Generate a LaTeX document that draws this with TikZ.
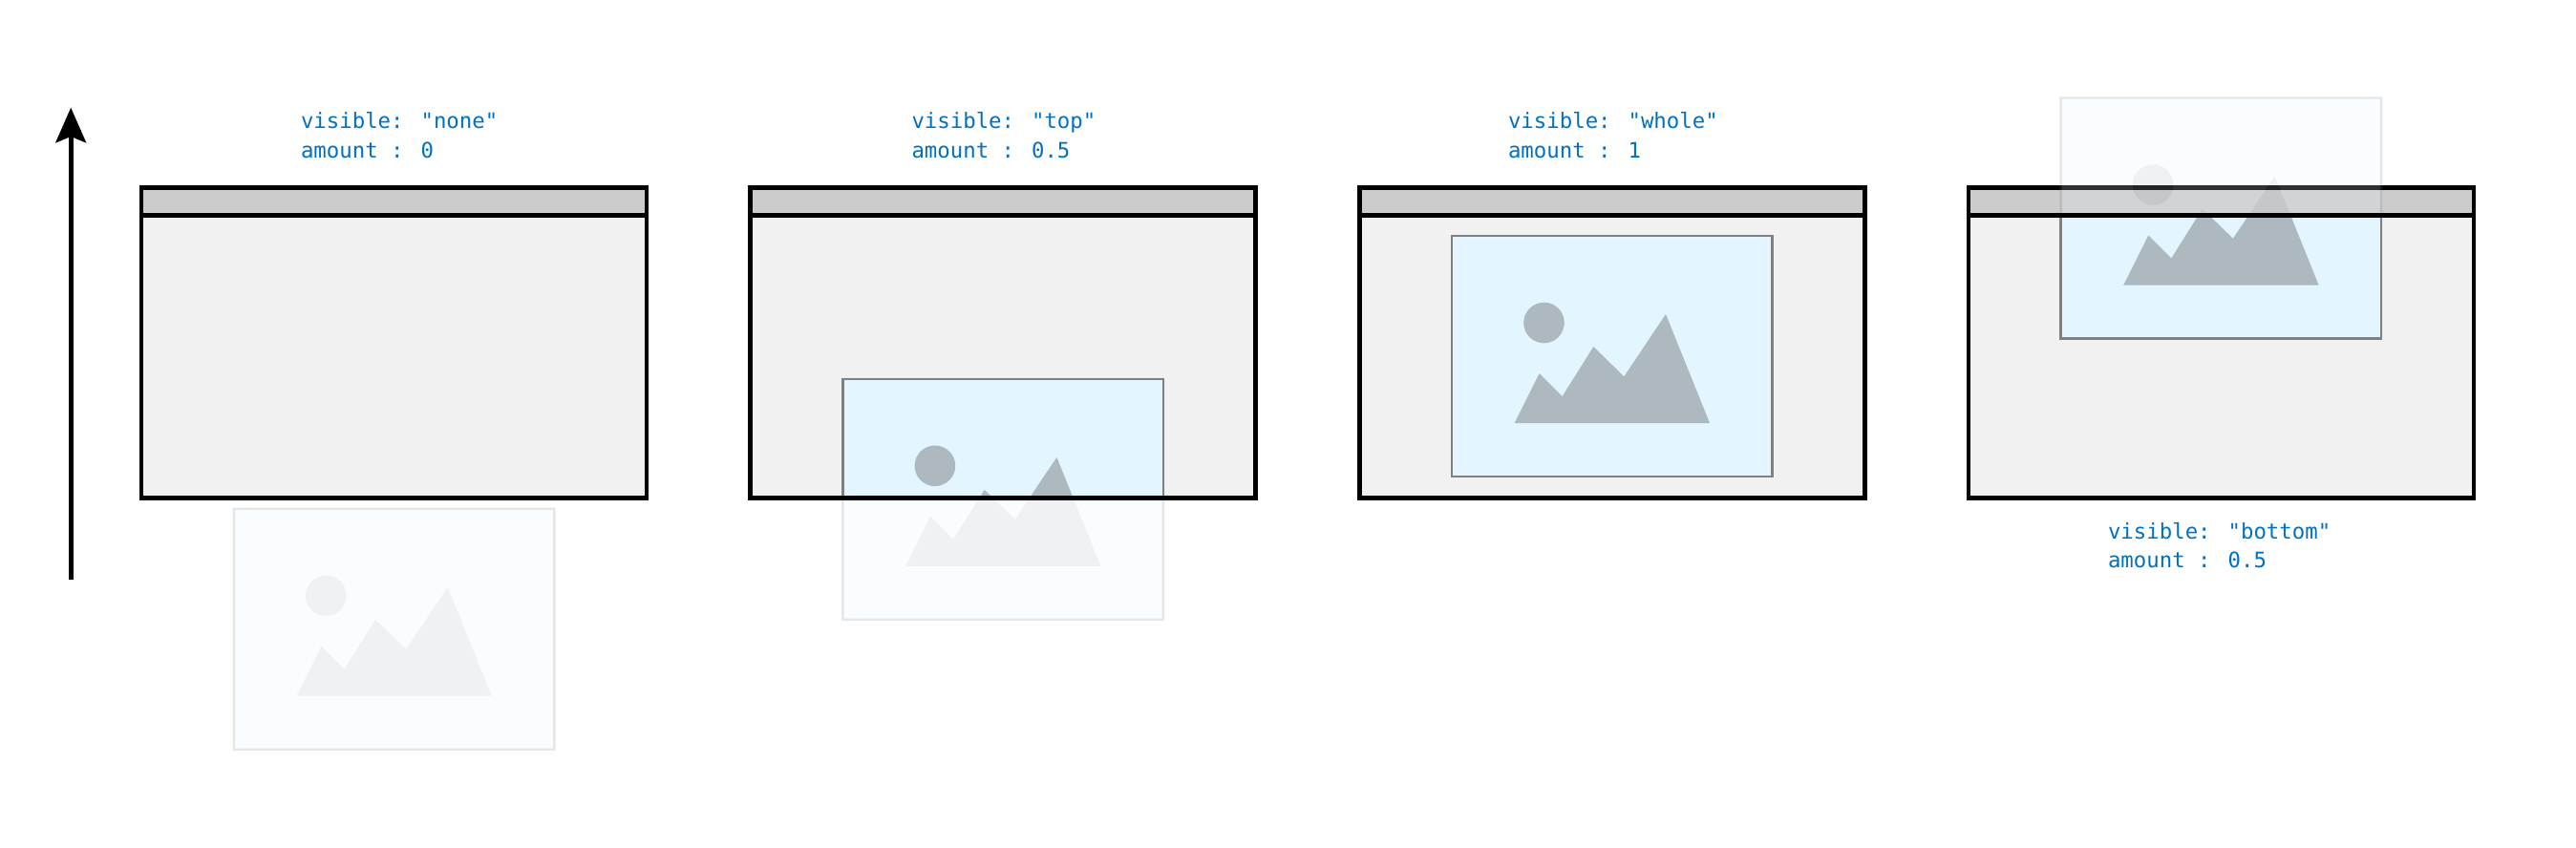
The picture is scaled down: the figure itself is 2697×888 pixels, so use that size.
\documentclass[tikz,border=0pt]{standalone}
\usepackage{fontspec}
\newfontfamily\codefont{DejaVu Sans Mono}
\usetikzlibrary{arrows.meta}
\definecolor{winfill}{HTML}{F1F1F1}
\definecolor{barfill}{HTML}{CCCCCC}
\definecolor{photofill}{HTML}{E3F5FE}
\definecolor{photoink}{HTML}{ADB8BF}
\definecolor{photoedge}{HTML}{808080}
\definecolor{codeblue}{HTML}{0070C0}
\tikzset{
  winbody/.style={fill=winfill},
  winbar/.style={fill=barfill},
  winline/.style={draw=black,line width=4.6pt,line join=miter},
  code/.style={font=\codefont\fontsize{22.35pt}{29pt}\selectfont,text=codeblue,anchor=base west,inner sep=0pt,outer sep=0pt},
  bigarrow/.style={draw=black,line width=4.6pt,-{Stealth[length=36.6pt,width=31.7pt,inset=6.3pt]}},
}
\newcommand{\photoart}{%
  \fill[photofill] (0,0) rectangle (335.5,252);
  \fill[photoink] (96.5,91) circle (21.3);
  \fill[photoink] (65.7,196) -- (91.7,144) -- (115.7,168) -- (148.3,116) -- (180.3,147.3) -- (224,82) -- (270,196) -- cycle;
  \draw[photoedge,line width=2.4pt] (0,0) rectangle (335.5,252);
}
% #1 window x
\newcommand{\winbase}[1]{%
  \fill[winbody] (#1,196.3) rectangle ++(529,325);
  \fill[winbar] (#1,196.3) rectangle ++(529,29.2);
  \draw[winline] (#1,196.3) rectangle ++(529,29.2);
  \draw[winline] (#1,225.5) rectangle ++(529,295.8);
}
\newcommand{\photofaded}[2]{%
  \begin{scope}[transparency group,opacity=0.2,shift={(#1+96.8,#2)}]
    \photoart
  \end{scope}
}
\newcommand{\photoclear}[2]{%
  \begin{scope}
    \clip (#1,225.5) rectangle ++(529,295.8);
    \begin{scope}[shift={(#1+96.8,#2)}]
      \photoart
    \end{scope}
  \end{scope}
  \draw[winline] (#1,225.5) rectangle ++(529,295.8);
}
\begin{document}
\begin{tikzpicture}[x=1pt,y=-1pt]
\useasboundingbox (0,0) rectangle (2697,888);
% upward arrow
\coordinate (arrowfoot) at (74.2,606.7);
\coordinate (arrowtip) at (74.2,112.7);
\draw[bigarrow] (arrowfoot) -- (arrowtip);
% window 1
\winbase{148}
\photofaded{148}{532.7}
% window 2
\winbase{785.6}
\photofaded{785.6}{396.8}
\photoclear{785.6}{396.8}
% window 3
\winbase{1423.2}
\photoclear{1423.2}{247}
% window 4
\winbase{2060.8}
\photofaded{2060.8}{102.5}
\photoclear{2060.8}{102.5}
% labels
\node[code] (l1a) at (315,135) {visible: "none"};
\node[code] (l1b) at (315,165) {amount : 0};
\node[code] (l2a) at (954.5,135) {visible: "top"};
\node[code] (l2b) at (954.5,165) {amount : 0.5};
\node[code] (l3a) at (1579,135) {visible: "whole"};
\node[code] (l3b) at (1579,165) {amount : 1};
\node[code] (l4a) at (2207,564.5) {visible: "bottom"};
\node[code] (l4b) at (2207,594.5) {amount : 0.5};
\end{tikzpicture}
\end{document}
